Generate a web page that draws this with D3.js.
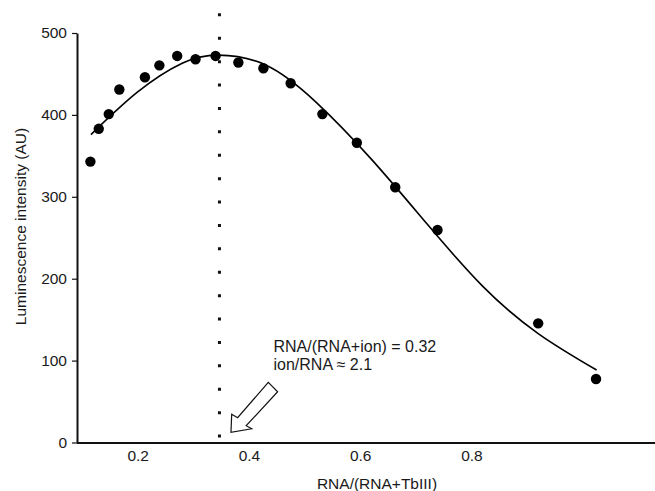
<!DOCTYPE html>
<html>
<head>
<meta charset="utf-8">
<script src="https://d3js.org/d3.v7.min.js"></script>
<style>
    body { margin: 0; background: #fff; }
    svg { display: block; font-family: "Liberation Sans", Arial, sans-serif; }
    .tick text { font-size: 15.5px; fill: #1a1a1a; }
    .axis-label { font-size: 15.5px; fill: #1a1a1a; }
    .note { font-size: 16px; fill: #1a1a1a; }
</style>
</head>
<body>
<svg width="655" height="491"></svg>
<script>
const width = 655;
const height = 491;

// measured points
const ratio = [0.115, 0.130, 0.148, 0.167, 0.213, 0.239, 0.271, 0.304, 0.340,
    0.381, 0.426, 0.475, 0.532, 0.594, 0.663, 0.739, 0.920, 1.024];
const intensity = [343, 383, 401, 431, 446, 460.5, 472, 468, 472,
    464, 457, 438.6, 401, 366, 311.6, 259.5, 145.5, 77.5];

// fitted curve
const fitX = [0.116, 0.2, 0.28, 0.345, 0.43, 0.52, 0.62, 0.72, 0.82, 0.92, 1.025];
const fitY = [376, 428, 463, 473, 461, 416, 346, 267, 191, 133, 88.5];

const xTicks = [0.2, 0.4, 0.6, 0.8];
const yTicks = [0, 100, 200, 300, 400, 500];

// dotted marker line and the arrow (data units)
const markerX = 0.347;
const markerY = [524, 6];
const arrowX = [0.3677, 0.369, 0.3797, 0.4348, 0.4516, 0.3951, 0.4049];
const arrowY = [12.5, 34.4, 30.3, 73.5, 62.0, 20.5, 16.8];

const noteLines = ["RNA/(RNA+ion) = 0.32", "ion/RNA \u2248 2.1"];

const svg = d3.select("svg");

// x scale
const xScale = d3.scaleLinear()
    .domain([0.09, 1.13])
    .range([76.5, 655]);

// y scale
const yScale = d3.scaleLinear()
    .domain([0, 500])
    .range([442.5, 33]);

// x axis
const xAxis = d3.axisBottom(xScale)
    .tickValues(xTicks)
    .tickSize(0)
    .tickPadding(7.5)
    .tickFormat(d3.format(".1f"));

const gx = svg.append("g")
    .attr("transform", `translate(0, ${yScale(0)})`)
    .call(xAxis);
gx.select(".domain").attr("stroke", "#111").attr("stroke-width", 2);
gx.selectAll(".tick text").attr("font-family", null).attr("font-size", null);

// y axis
const yAxis = d3.axisLeft(yScale)
    .tickValues(yTicks)
    .tickSize(5)
    .tickPadding(5)
    .tickSizeOuter(0);

const gy = svg.append("g")
    .attr("transform", `translate(${xScale(0.09) + 0.5},0)`)
    .call(yAxis);
gy.select(".domain").attr("stroke", "#111").attr("stroke-width", 2);
gy.selectAll(".tick line").attr("stroke", "#111").attr("stroke-width", 1.2);
gy.selectAll(".tick text").attr("font-family", null).attr("font-size", null);

// dotted vertical line
svg.append("line")
    .attr("x1", xScale(markerX))
    .attr("x2", xScale(markerX))
    .attr("y1", yScale(markerY[0]))
    .attr("y2", yScale(markerY[1]))
    .attr("stroke", "#111")
    .attr("stroke-width", 3)
    .attr("stroke-dasharray", "3 20.4");

// fitted curve
const fitLine = d3.line()
    .x(d => xScale(d[0]))
    .y(d => yScale(d[1]))
    .curve(d3.curveNatural);

svg.append("path")
    .datum(d3.zip(fitX, fitY))
    .attr("d", fitLine)
    .attr("fill", "none")
    .attr("stroke", "#000")
    .attr("stroke-width", 1.6);

// points
svg.selectAll(".pt")
    .data(d3.zip(ratio, intensity))
    .join("circle")
    .attr("class", "pt")
    .attr("cx", d => xScale(d[0]))
    .attr("cy", d => yScale(d[1]))
    .attr("r", 5.2)
    .attr("fill", "#000");

// arrow
svg.append("polygon")
    .attr("points", d3.zip(arrowX, arrowY).map(d => [xScale(d[0]), yScale(d[1])].join(",")).join(" "))
    .attr("fill", "#fff")
    .attr("stroke", "#111")
    .attr("stroke-width", 1.2)
    .attr("stroke-linejoin", "miter");

// annotation
svg.append("text")
    .attr("class", "note")
    .attr("x", 273.5)
    .attr("y", 351.5)
    .selectAll("tspan")
    .data(noteLines)
    .join("tspan")
    .attr("x", 273.5)
    .attr("dy", (d, i) => i === 0 ? 0 : 18.5)
    .text(d => d);

// x axis label
svg.append("text")
    .attr("class", "axis-label")
    .attr("x", 377)
    .attr("y", 489)
    .attr("text-anchor", "middle")
    .text("RNA/(RNA+TbIII)");

// y axis label
svg.append("text")
    .attr("class", "axis-label")
    .attr("transform", "rotate(-90)")
    .attr("x", -226.5)
    .attr("y", 26)
    .attr("text-anchor", "middle")
    .text("Luminescence intensity (AU)");
</script>
</body>
</html>
